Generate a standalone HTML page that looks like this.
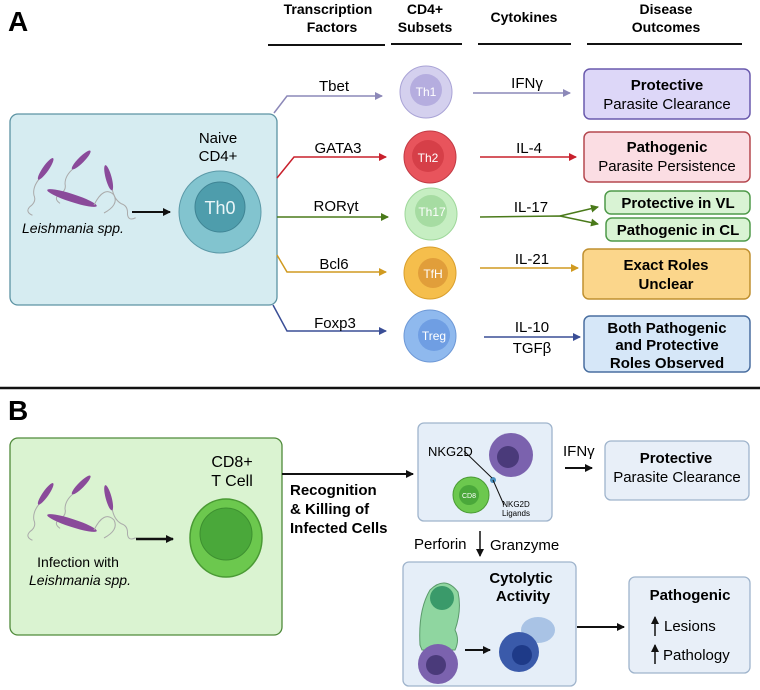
<!DOCTYPE html>
<html><head><meta charset="utf-8"><style>
html,body{margin:0;padding:0;background:#fff;}
svg{display:block;font-family:"Liberation Sans",Arial,sans-serif;}
</style></head><body>
<svg width="760" height="690" viewBox="0 0 760 690" xmlns="http://www.w3.org/2000/svg">
<defs>
<marker id="ak" markerWidth="8" markerHeight="8" refX="7" refY="4" orient="auto" markerUnits="userSpaceOnUse"><path d="M0,0 L8,4 L0,8 z" fill="#111"/></marker>
<marker id="ap" markerWidth="8" markerHeight="8" refX="7" refY="4" orient="auto" markerUnits="userSpaceOnUse"><path d="M0,0 L8,4 L0,8 z" fill="#8c88b8"/></marker>
<marker id="ar" markerWidth="8" markerHeight="8" refX="7" refY="4" orient="auto" markerUnits="userSpaceOnUse"><path d="M0,0 L8,4 L0,8 z" fill="#c8202c"/></marker>
<marker id="ag" markerWidth="8" markerHeight="8" refX="7" refY="4" orient="auto" markerUnits="userSpaceOnUse"><path d="M0,0 L8,4 L0,8 z" fill="#4a7a1a"/></marker>
<marker id="ao" markerWidth="8" markerHeight="8" refX="7" refY="4" orient="auto" markerUnits="userSpaceOnUse"><path d="M0,0 L8,4 L0,8 z" fill="#d09a20"/></marker>
<marker id="ab" markerWidth="8" markerHeight="8" refX="7" refY="4" orient="auto" markerUnits="userSpaceOnUse"><path d="M0,0 L8,4 L0,8 z" fill="#3a4e96"/></marker>
<g id="para">
<path d="M0,0 q-6,10 -3,18 q4,6 -2,12 q-4,6 4,8" fill="none" stroke="#aaa" stroke-width="1"/>
<ellipse cx="4" cy="-10" rx="3" ry="13" fill="#8a4a9a" transform="rotate(25 4 -10)"/>
</g>
</defs>

<!-- Panel A -->
<text x="8" y="31" font-size="28" font-weight="bold">A</text>
<g font-size="14" font-weight="bold" text-anchor="middle">
<text x="328" y="14">Transcription</text><text x="332" y="32">Factors</text>
<text x="425" y="14">CD4+</text><text x="425" y="32">Subsets</text>
<text x="524" y="22">Cytokines</text>
<text x="666" y="14">Disease</text><text x="666" y="32">Outcomes</text>
</g>
<g stroke="#111" stroke-width="2">
<line x1="268" y1="45" x2="385" y2="45"/><line x1="391" y1="44" x2="462" y2="44"/>
<line x1="478" y1="44" x2="571" y2="44"/><line x1="587" y1="44" x2="742" y2="44"/>
</g>

<rect x="10" y="114" width="267" height="191" rx="8" fill="#d6ecf1" stroke="#5c93a3" stroke-width="1.3"/>
<g transform="translate(40,178) rotate(10)"><use href="#para"/></g>
<g transform="translate(74,168) rotate(20)"><use href="#para"/></g>
<g transform="translate(112,188) rotate(-40)"><use href="#para"/></g>
<ellipse cx="72" cy="198" rx="26" ry="4" fill="#8a4a9a" transform="rotate(18 72 198)"/>
<path d="M94,205 q10,-20 20,-10 q5,10 -10,18" fill="none" stroke="#aaa" stroke-width="1"/>
<text x="22" y="233" font-size="14" font-style="italic">Leishmania spp.</text>
<line x1="132" y1="212" x2="170" y2="212" stroke="#111" stroke-width="2" marker-end="url(#ak)"/>
<text x="218" y="143" font-size="15" text-anchor="middle">Naive</text>
<text x="218" y="161" font-size="15" text-anchor="middle">CD4+</text>
<circle cx="220" cy="212" r="41" fill="#82c4cf" stroke="#5c9aa8" stroke-width="1"/>
<circle cx="220" cy="207" r="25" fill="#4e9dac" stroke="#3f8494" stroke-width="1"/>
<text x="220" y="214" font-size="18" fill="#eaf6f8" text-anchor="middle">Th0</text>

<g fill="none" stroke-width="1.5">
<path d="M274,113 L287,96 L382,96" stroke="#8c88b8" marker-end="url(#ap)"/>
<path d="M277,178 L294,157 L386,157" stroke="#c8202c" marker-end="url(#ar)"/>
<path d="M277,217 L388,217" stroke="#4a7a1a" marker-end="url(#ag)"/>
<path d="M277,255 L287,272 L386,272" stroke="#d09a20" marker-end="url(#ao)"/>
<path d="M273,305 L287,331 L386,331" stroke="#3a4e96" marker-end="url(#ab)"/>
</g>
<g font-size="15" text-anchor="middle">
<text x="334" y="91">Tbet</text><text x="338" y="153">GATA3</text><text x="336" y="211">RORγt</text>
<text x="334" y="269">Bcl6</text><text x="335" y="328">Foxp3</text>
</g>

<circle cx="426" cy="92" r="26" fill="#d4d0ee" stroke="#a9a3d6"/><circle cx="426" cy="90" r="16" fill="#b5addf"/>
<text x="426" y="96" font-size="12" fill="#fff" text-anchor="middle">Th1</text>
<circle cx="430" cy="157" r="26" fill="#e8545c" stroke="#c23a44"/><circle cx="428" cy="156" r="16" fill="#d63f48"/>
<text x="428" y="162" font-size="12" fill="#fff" text-anchor="middle">Th2</text>
<circle cx="431" cy="214" r="26" fill="#c6eec2" stroke="#9ed79a"/><circle cx="431" cy="211" r="16" fill="#a6dca2"/>
<text x="432" y="216" font-size="12" fill="#fff" text-anchor="middle">Th17</text>
<circle cx="430" cy="273" r="26" fill="#f5be4c" stroke="#d99f2c"/><circle cx="433" cy="273" r="15" fill="#e19e3a"/>
<text x="433" y="278" font-size="12" fill="#fff" text-anchor="middle">TfH</text>
<circle cx="430" cy="336" r="26" fill="#8fb9ee" stroke="#6d98d6"/><circle cx="434" cy="335" r="16" fill="#6f9ee3"/>
<text x="434" y="340" font-size="12" fill="#fff" text-anchor="middle">Treg</text>

<g fill="none" stroke-width="1.5">
<line x1="473" y1="93" x2="570" y2="93" stroke="#8c88b8" marker-end="url(#ap)"/>
<line x1="480" y1="157" x2="576" y2="157" stroke="#c8202c" marker-end="url(#ar)"/>
<path d="M480,217 L560,216 L598,224" stroke="#4a7a1a" marker-end="url(#ag)"/>
<line x1="560" y1="216" x2="598" y2="207" stroke="#4a7a1a" marker-end="url(#ag)"/>
<line x1="480" y1="268" x2="578" y2="268" stroke="#d09a20" marker-end="url(#ao)"/>
<line x1="484" y1="337" x2="580" y2="337" stroke="#3a4e96" marker-end="url(#ab)"/>
</g>
<g font-size="15" text-anchor="middle">
<text x="527" y="88">IFNγ</text><text x="529" y="153">IL-4</text><text x="531" y="212">IL-17</text>
<text x="532" y="264">IL-21</text><text x="532" y="332">IL-10</text><text x="532" y="353">TGFβ</text>
</g>

<rect x="584" y="69" width="166" height="50" rx="6" fill="#ddd7f8" stroke="#6a5aad" stroke-width="1.5"/>
<text x="667" y="90" font-size="15" font-weight="bold" text-anchor="middle">Protective</text>
<text x="667" y="109" font-size="15" text-anchor="middle">Parasite Clearance</text>
<rect x="584" y="132" width="166" height="50" rx="6" fill="#fbdde3" stroke="#b5484f" stroke-width="1.5"/>
<text x="667" y="152" font-size="15" font-weight="bold" text-anchor="middle">Pathogenic</text>
<text x="667" y="171" font-size="15" text-anchor="middle">Parasite Persistence</text>
<rect x="605" y="191" width="145" height="23" rx="6" fill="#d9f3d4" stroke="#4f9a4a" stroke-width="1.5"/>
<text x="678" y="208" font-size="15" font-weight="bold" text-anchor="middle">Protective in VL</text>
<rect x="606" y="218" width="144" height="23" rx="6" fill="#d9f3d4" stroke="#4f9a4a" stroke-width="1.5"/>
<text x="678" y="235" font-size="15" font-weight="bold" text-anchor="middle">Pathogenic in CL</text>
<rect x="583" y="249" width="167" height="50" rx="6" fill="#fbd68b" stroke="#c09030" stroke-width="1.5"/>
<text x="666" y="270" font-size="15" font-weight="bold" text-anchor="middle">Exact Roles</text>
<text x="666" y="289" font-size="15" font-weight="bold" text-anchor="middle">Unclear</text>
<rect x="584" y="316" width="166" height="56" rx="6" fill="#d6e7f8" stroke="#4a6fa0" stroke-width="1.5"/>
<text x="667" y="333" font-size="15" font-weight="bold" text-anchor="middle">Both Pathogenic</text>
<text x="667" y="350" font-size="15" font-weight="bold" text-anchor="middle">and Protective</text>
<text x="667" y="368" font-size="15" font-weight="bold" text-anchor="middle">Roles Observed</text>

<line x1="0" y1="388" x2="760" y2="388" stroke="#111" stroke-width="2.5"/>

<!-- Panel B -->
<text x="8" y="420" font-size="28" font-weight="bold">B</text>
<rect x="10" y="438" width="272" height="197" rx="8" fill="#daf3d1" stroke="#4f8a3a" stroke-width="1.3"/>
<g transform="translate(40,503) rotate(10)"><use href="#para"/></g>
<g transform="translate(74,493) rotate(20)"><use href="#para"/></g>
<g transform="translate(112,508) rotate(-40)"><use href="#para"/></g>
<ellipse cx="72" cy="523" rx="26" ry="4" fill="#8a4a9a" transform="rotate(18 72 523)"/>
<path d="M94,530 q10,-20 20,-10 q5,10 -10,18" fill="none" stroke="#aaa" stroke-width="1"/>
<line x1="136" y1="539" x2="173" y2="539" stroke="#111" stroke-width="2.5" marker-end="url(#ak)"/>
<text x="78" y="567" font-size="14" text-anchor="middle">Infection with</text>
<text x="80" y="585" font-size="14" font-style="italic" text-anchor="middle">Leishmania spp.</text>
<text x="232" y="467" font-size="16" text-anchor="middle">CD8+</text>
<text x="232" y="486" font-size="16" text-anchor="middle">T Cell</text>
<ellipse cx="226" cy="538" rx="36" ry="39" fill="#6cc84e" stroke="#4a9a34" stroke-width="1.5"/>
<circle cx="226" cy="534" r="26" fill="#4aa83a" stroke="#3d9030"/>

<line x1="282" y1="474" x2="413" y2="474" stroke="#111" stroke-width="2" marker-end="url(#ak)"/>
<g font-size="15" font-weight="bold"><text x="290" y="495">Recognition</text><text x="290" y="514">&amp; Killing of</text><text x="290" y="533">Infected Cells</text></g>

<rect x="418" y="423" width="134" height="98" rx="6" fill="#e5eef8" stroke="#9fb4cc" stroke-width="1.3"/>
<circle cx="511" cy="455" r="22" fill="#7b62ae"/><circle cx="508" cy="457" r="11" fill="#4a3a7a"/>
<circle cx="471" cy="495" r="18" fill="#6cc84e" stroke="#4a9a34"/><circle cx="469" cy="495" r="10" fill="#4aa83a"/>
<text x="469" y="498" font-size="7" fill="#fff" text-anchor="middle">CD8</text>
<circle cx="493" cy="480" r="3" fill="#4a90c0"/>
<line x1="464" y1="451" x2="492" y2="478" stroke="#111"/><line x1="493" y1="480" x2="504" y2="505" stroke="#111"/>
<text x="428" y="456" font-size="13">NKG2D</text>
<text x="516" y="507" font-size="8" text-anchor="middle">NKG2D</text><text x="516" y="516" font-size="8" text-anchor="middle">Ligands</text>
<text x="563" y="456" font-size="15">IFNγ</text>
<line x1="565" y1="468" x2="592" y2="468" stroke="#111" stroke-width="2" marker-end="url(#ak)"/>
<rect x="605" y="441" width="144" height="59" rx="6" fill="#e8eff8" stroke="#9fb4cc" stroke-width="1.3"/>
<text x="676" y="463" font-size="15" font-weight="bold" text-anchor="middle">Protective</text>
<text x="677" y="482" font-size="15" text-anchor="middle">Parasite Clearance</text>

<text x="414" y="549" font-size="15">Perforin</text>
<line x1="480" y1="531" x2="480" y2="556" stroke="#111" stroke-width="1.5" marker-end="url(#ak)"/>
<text x="490" y="550" font-size="15">Granzyme</text>

<rect x="403" y="562" width="173" height="124" rx="6" fill="#e5eef8" stroke="#9fb4cc" stroke-width="1.3"/>
<text x="521" y="583" font-size="15" font-weight="bold" text-anchor="middle">Cytolytic</text>
<text x="523" y="601" font-size="15" font-weight="bold" text-anchor="middle">Activity</text>
<path d="M420,645 Q418,610 430,590 Q445,575 458,592 Q462,610 455,630 Q460,640 455,650 L422,650 z" fill="#8fd6a0" stroke="#5a9a6a"/>
<circle cx="442" cy="598" r="12" fill="#3a9a6a"/>
<circle cx="438" cy="664" r="20" fill="#7b62ae"/><circle cx="436" cy="665" r="10" fill="#4a3a7a"/>
<line x1="465" y1="650" x2="490" y2="650" stroke="#111" stroke-width="2" marker-end="url(#ak)"/>
<ellipse cx="538" cy="630" rx="17" ry="13" fill="#9ab8e0" opacity="0.8"/>
<circle cx="519" cy="652" r="20" fill="#3a5aaa"/><circle cx="522" cy="655" r="10" fill="#1e3a88"/>
<line x1="577" y1="627" x2="624" y2="627" stroke="#111" stroke-width="2" marker-end="url(#ak)"/>

<rect x="629" y="577" width="121" height="96" rx="6" fill="#e8eff8" stroke="#9fb4cc" stroke-width="1.3"/>
<text x="690" y="600" font-size="15" font-weight="bold" text-anchor="middle">Pathogenic</text>
<line x1="655" y1="636" x2="655" y2="617" stroke="#111" stroke-width="1.5" marker-end="url(#ak)"/>
<text x="664" y="631" font-size="15">Lesions</text>
<line x1="655" y1="664" x2="655" y2="645" stroke="#111" stroke-width="1.5" marker-end="url(#ak)"/>
<text x="663" y="660" font-size="15">Pathology</text>
</svg>
</body></html>
